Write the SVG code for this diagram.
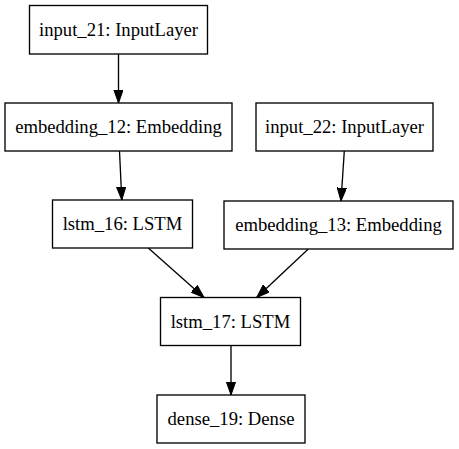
<svg xmlns="http://www.w3.org/2000/svg" width="459" height="449" viewBox="0 0 459 449">
<style>
.node rect{fill:#fff;stroke:#000;stroke-width:1.33}
.node text{font-family:"Liberation Serif","Times New Roman",serif;font-size:18.67px;fill:#000;text-anchor:middle}
.edges line{stroke:#000;stroke-width:1.33;marker-end:url(#ah)}
</style>
<defs>
<marker id="ah" markerUnits="userSpaceOnUse" markerWidth="14" markerHeight="10" refX="13.3" refY="4.7" orient="auto" viewBox="0 0 14 10">
<path d="M0,0 L13.3,4.7 L0,9.4 Z" fill="#000" stroke="#000" stroke-width="1"/>
</marker>
</defs>
<rect width="459" height="449" fill="#fff"/>
<g class="edges" id="connectors">
<line x1="118.5" y1="54" x2="118.5" y2="103"/>
<line x1="119.5" y1="151" x2="121.8" y2="200"/>
<line x1="344.3" y1="151" x2="341" y2="201"/>
<line x1="148.3" y1="248" x2="204" y2="297.5"/>
<line x1="308.3" y1="249" x2="256.7" y2="297.5"/>
<line x1="231" y1="345.5" x2="231" y2="395"/>
</g>
<g class="node" id="input_21"><rect x="29.5" y="5.5" width="178" height="48.5"/><text x="118.5" y="35.5">input_21: InputLayer</text></g>
<g class="node" id="embedding_12"><rect x="5" y="103" width="227" height="48"/><text x="118.5" y="133">embedding_12: Embedding</text></g>
<g class="node" id="input_22"><rect x="256" y="103" width="177" height="48"/><text x="344.5" y="133">input_22: InputLayer</text></g>
<g class="node" id="lstm_16"><rect x="52.5" y="200" width="140" height="48"/><text x="122.5" y="230">lstm_16: LSTM</text></g>
<g class="node" id="embedding_13"><rect x="224" y="201" width="229" height="48"/><text x="338.5" y="231">embedding_13: Embedding</text></g>
<g class="node" id="lstm_17"><rect x="160.5" y="297.5" width="140" height="48"/><text x="230.5" y="327.5">lstm_17: LSTM</text></g>
<g class="node" id="dense_19"><rect x="157" y="395" width="148" height="48"/><text x="231" y="425">dense_19: Dense</text></g>
</svg>
